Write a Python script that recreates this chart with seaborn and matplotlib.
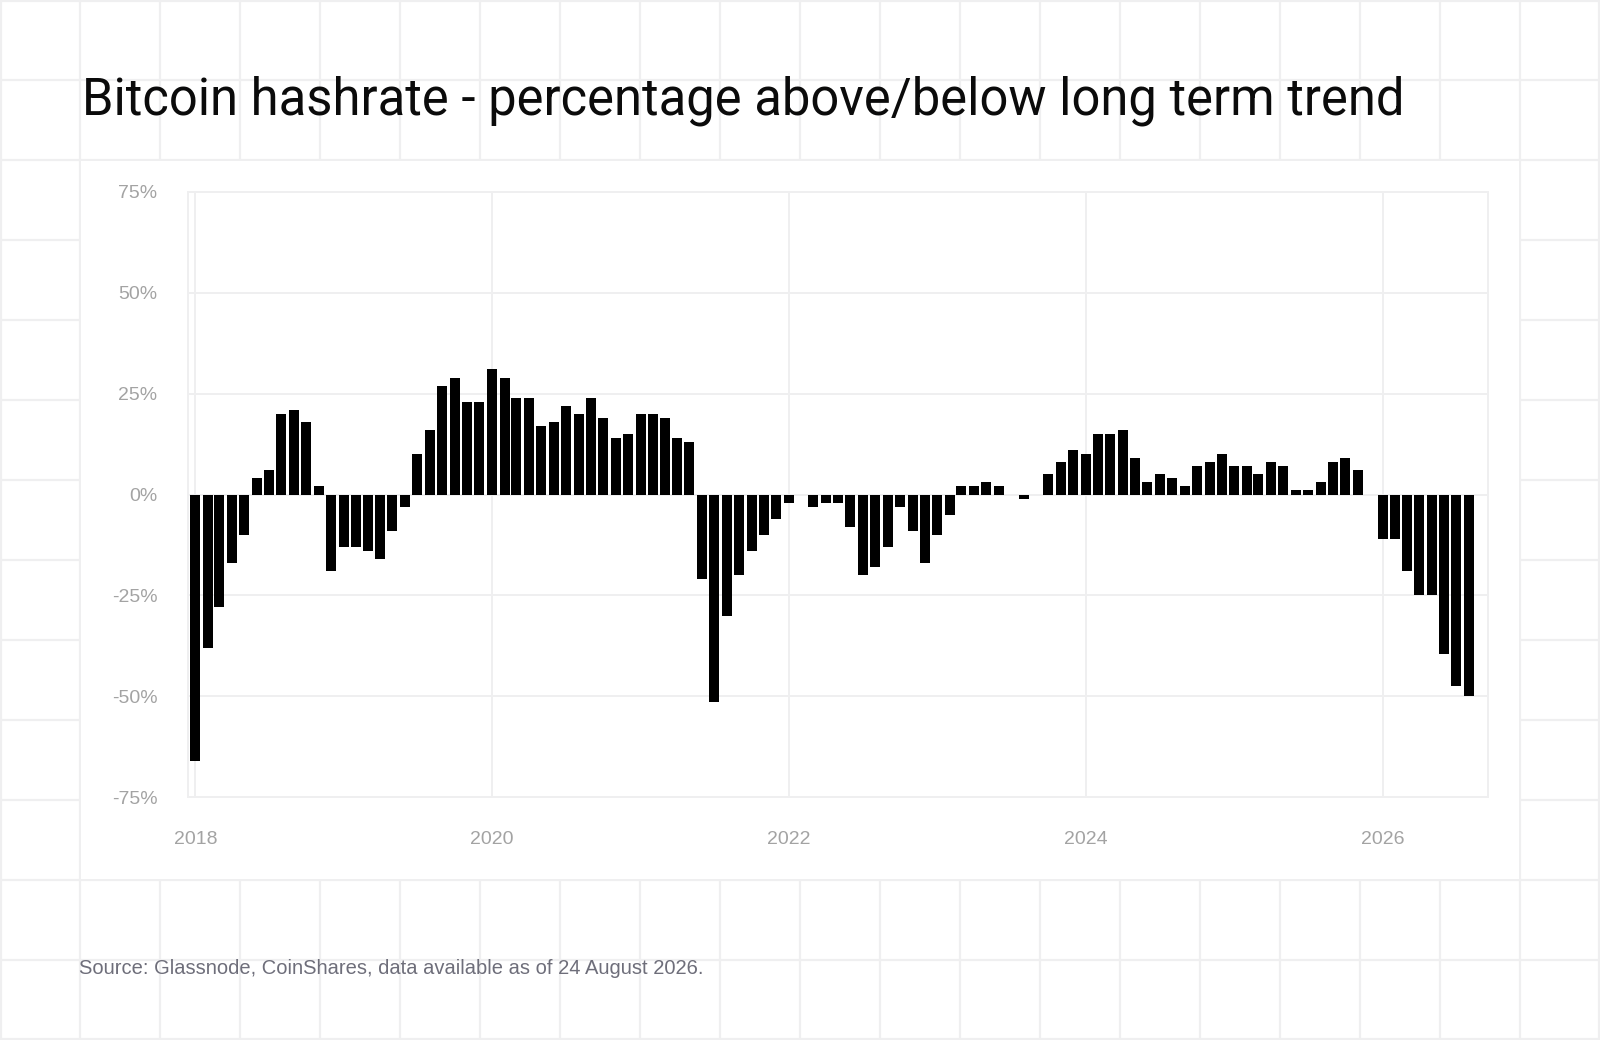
import numpy as np
import pandas as pd
import matplotlib
matplotlib.use("Agg")
import matplotlib.pyplot as plt
import matplotlib.dates as mdates
from matplotlib.patches import Rectangle
from matplotlib.ticker import FixedLocator
import seaborn as sns

# ------------------------------------------------------------
# Data: monthly % above/below long term trend
# ------------------------------------------------------------
start_month = "2018-01-01"
dev_2018 = [-66, -38, -28, -17, -10, 4, 6, 20, 21, 18, 2, -19]
dev_2019 = [-13, -13, -14, -16, -9, -3, 10, 16, 27, 29, 23, 23]
dev_2020 = [31, 29, 24, 24, 17, 18, 22, 20, 24, 19, 14, 15]
dev_2021 = [20, 20, 19, 14, 13, -21, -51.5, -30, -20, -14, -10, -6]
dev_2022 = [-2, 0, -3, -2, -2, -8, -20, -18, -13, -3, -9, -17]
dev_2023 = [-10, -5, 2, 2, 3, 2, 0, -1, 0, 5, 8, 11]
dev_2024 = [10, 15, 15, 16, 9, 3, 5, 4, 2, 7, 8, 10]
dev_2025 = [7, 7, 5, 8, 7, 1, 1, 3, 8, 9, 6, 0]
dev_2026 = [-11, -11, -19, -25, -25, -39.5, -47.5, -50]

y_ticks = [-75, -50, -25, 0, 25, 50, 75]
y_tick_labels = ["-75%", "-50%", "-25%", "0%", "25%", "50%", "75%"]
year_ticks = ["2018", "2020", "2022", "2024", "2026"]

title = "Bitcoin hashrate - percentage above/below long term trend"
source = "Source: Glassnode, CoinShares, data available as of 24 August 2026."

values = (dev_2018 + dev_2019 + dev_2020 + dev_2021 + dev_2022 +
          dev_2023 + dev_2024 + dev_2025 + dev_2026)
months = pd.date_range(start_month, periods=len(values), freq="MS")
df = pd.DataFrame({"x": mdates.date2num(months.to_pydatetime()),
                   "dev": values})

# ------------------------------------------------------------
# Style
# ------------------------------------------------------------
sns.set_theme(style="white")
plt.rcParams["font.family"] = ["Liberation Sans", "DejaVu Sans"]

GRID = "#efeff0"
TICK = "#a3a3a3"

W, H = 1600, 1040
fig = plt.figure(figsize=(16, 10.4), dpi=100)
fig.patch.set_facecolor("white")

# decorative background grid (80 px squares) with white chart panel
bg = fig.add_axes([0, 0, 1, 1], zorder=0)
bg.set_xlim(0, W)
bg.set_ylim(H, 0)
bg.axis("off")
for gx in range(0, W + 1, 80):
    bg.axvline(max(1, min(gx, W - 1)), color=GRID, lw=1.6)
for gy in range(0, H + 1, 80):
    bg.axhline(max(1, min(gy, H - 1)), color=GRID, lw=1.6)
bg.add_patch(Rectangle((81, 161), 1438, 718, facecolor="white",
                       edgecolor="none", zorder=3))

# chart axes
ax = fig.add_axes([188 / W, 1 - 797 / H, 1300 / W, 605 / H], zorder=2)
ax.set_facecolor("white")

sns.barplot(data=df, x="x", y="dev", native_scale=True, color="black",
            saturation=1, width=0.88, linewidth=0, errorbar=None, ax=ax,
            zorder=3)

ax.set_xlim(mdates.date2num(pd.Timestamp("2017-12-14")),
            mdates.date2num(pd.Timestamp("2026-09-17")))
ax.set_ylim(-75, 75)

xt = mdates.date2num([pd.Timestamp(f"{y}-01-01") for y in year_ticks])
ax.xaxis.set_major_locator(FixedLocator(xt))
ax.set_xticklabels(year_ticks)
ax.set_yticks(y_ticks)
ax.set_yticklabels(y_tick_labels)

ax.grid(True, color=GRID, lw=1.4, zorder=0)
ax.set_axisbelow(True)
for s in ax.spines.values():
    s.set_visible(True)
    s.set_color(GRID)
    s.set_linewidth(1.4)

ax.tick_params(axis="both", length=0, colors=TICK, labelsize=14)
ax.tick_params(axis="x", pad=24.5)
ax.tick_params(axis="y", pad=22)
ax.set_xlabel("")
ax.set_ylabel("")

fig.text(82 / W, 1 - 114 / H, title, fontsize=36.5, color="#0b0b0b",
         family=["Roboto", "DejaVu Sans"], va="baseline", ha="left")
fig.text(79 / W, 1 - 968 / H, source, fontsize=14.5, color="#6e6e7a",
         va="center", ha="left")

plt.savefig("out.png", dpi=100, facecolor="white")
